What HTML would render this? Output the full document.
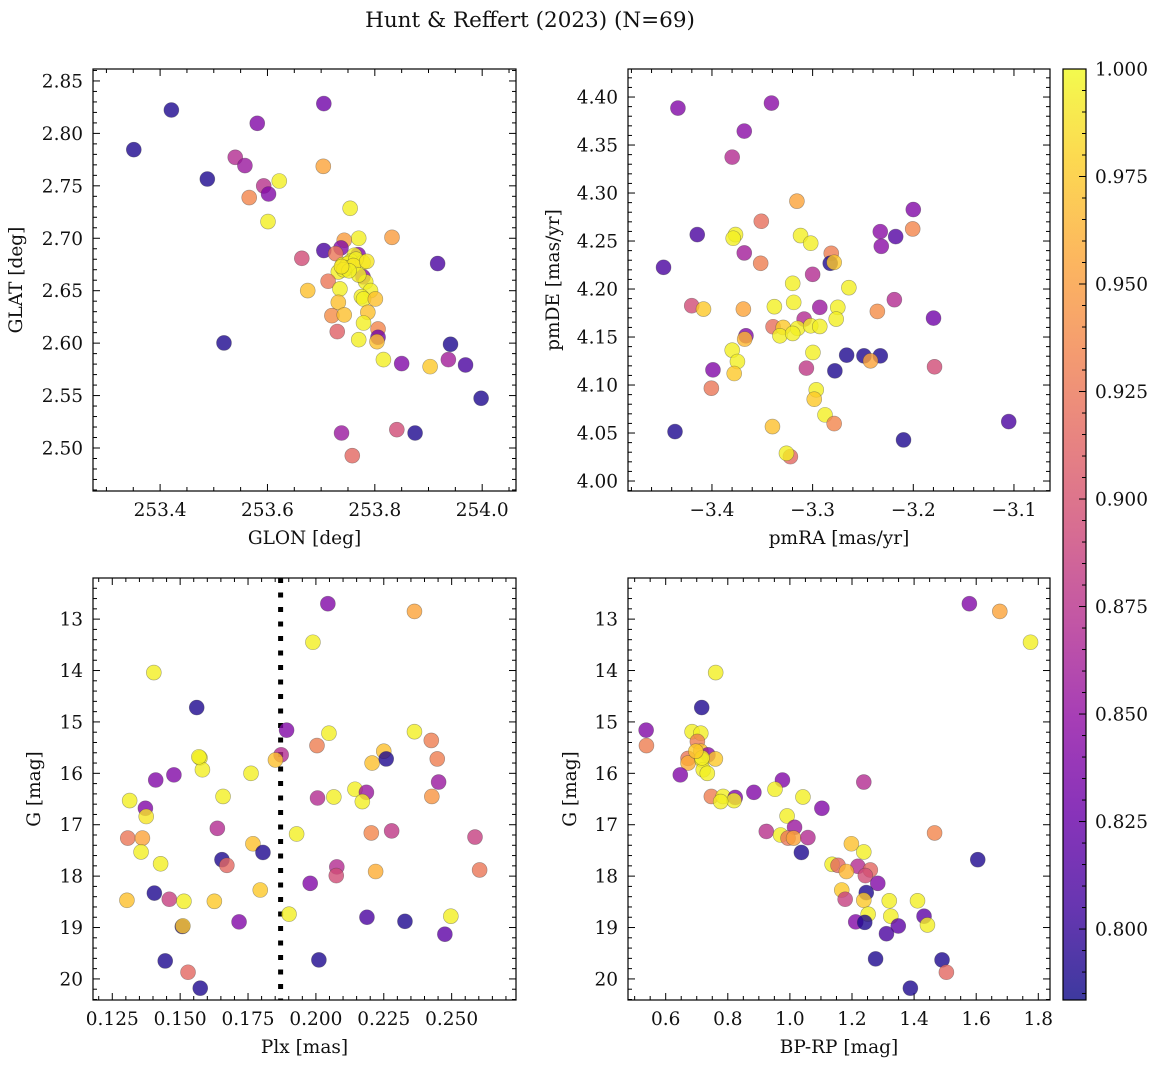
<!DOCTYPE html>
<html><head><meta charset="utf-8">
<style>
html,body{margin:0;padding:0;background:#fff;}
svg{display:block;font-family:"DejaVu Serif","Liberation Serif",serif;}
</style></head>
<body>
<svg id="fig" width="1160" height="1068" viewBox="0 0 1160 1068" xmlns="http://www.w3.org/2000/svg">
<rect width="1160" height="1068" fill="#fff"/>
<text x="530" y="27" font-size="21.5" text-anchor="middle" fill="#111">Hunt &amp; Reffert (2023) (N=69)</text>
</svg>
<script>
// ---- Panel 1: GLON vs GLAT ----
const glonTL = [253.351,253.421,253.581,253.705,253.488,253.540,253.558,253.622,253.593,253.602,253.566,253.704,253.601,253.754,253.770,253.832,253.743,253.705,253.737,253.727,253.769,253.762,253.664,253.917,253.740,253.755,253.778,253.732,253.747,253.778,253.783,253.713,253.735,253.792,253.675,253.775,253.779,253.801,253.732,253.787,253.720,253.743,253.730,253.779,253.806,253.806,253.770,253.804,253.519,253.816,253.850,253.903,253.941,253.937,253.969,253.998,253.738,253.841,253.875,253.758,253.750,253.745,253.765,253.760,253.742,253.785,253.770,253.752,253.738];
const glatTL = [2.7845,2.8223,2.8096,2.8284,2.7565,2.7772,2.7693,2.7546,2.7499,2.7422,2.7388,2.7686,2.7159,2.7286,2.7000,2.7009,2.6981,2.6883,2.6908,2.6854,2.6844,2.6838,2.6809,2.6759,2.6749,2.6781,2.6769,2.6679,2.6710,2.6632,2.6584,2.6590,2.6517,2.6501,2.6501,2.6443,2.6421,2.6421,2.6389,2.6294,2.6262,2.6269,2.6110,2.6192,2.6135,2.6056,2.6033,2.6014,2.6002,2.5843,2.5805,2.5776,2.5989,2.5843,2.5792,2.5474,2.5143,2.5175,2.5143,2.4927,2.6760,2.6720,2.6800,2.6740,2.6700,2.6780,2.6650,2.6690,2.6730];
const probTL = [0.79,0.79,0.84,0.83,0.79,0.87,0.855,0.995,0.875,0.84,0.935,0.955,0.995,0.995,0.995,0.95,0.95,0.81,0.84,0.925,0.84,0.995,0.895,0.81,0.995,0.995,0.995,0.995,0.995,0.845,0.995,0.925,0.995,0.995,0.97,0.995,0.995,0.97,0.97,0.97,0.94,0.97,0.91,0.995,0.935,0.83,0.995,0.97,0.79,0.995,0.84,0.975,0.79,0.86,0.81,0.79,0.855,0.895,0.79,0.915,0.995,0.995,0.995,0.99,0.995,0.99,0.995,0.995,0.99];

// ---- Panel 2: pmRA vs pmDE ----
const pmraTR = [-3.4338,-3.3409,-3.3679,-3.3799,-3.3156,-3.2000,-3.2006,-3.3510,-3.4146,-3.3766,-3.3789,-3.3120,-3.3019,-3.2328,-3.2175,-3.2318,-3.3679,-3.2815,-3.2825,-3.2786,-3.4481,-3.3516,-3.3000,-3.3198,-3.2640,-3.3188,-3.3380,-3.4201,-3.4084,-3.3688,-3.2929,-3.2750,-3.2188,-3.2357,-3.1799,-3.2766,-3.3084,-3.3393,-3.3292,-3.3149,-3.3019,-3.2929,-3.3325,-3.3198,-3.3662,-3.3675,-3.3799,-3.3747,-3.3779,-3.2997,-3.2662,-3.2490,-3.2328,-3.2425,-3.2779,-3.3062,-3.1789,-3.3990,-3.4006,-3.2964,-3.2984,-3.2877,-3.2786,-3.3399,-3.4367,-3.2097,-3.1052,-3.3221,-3.3260];
const pmdeTR = [4.3885,4.3937,4.3645,4.3374,4.2915,4.2828,4.2626,4.2706,4.2567,4.2567,4.2529,4.2557,4.2477,4.2598,4.2546,4.2445,4.2376,4.2372,4.2268,4.2278,4.2226,4.2268,4.2153,4.2059,4.2014,4.1861,4.1816,4.1826,4.1791,4.1791,4.1809,4.1809,4.1889,4.1767,4.1697,4.1687,4.1687,4.1607,4.1600,4.1590,4.1617,4.1610,4.1513,4.1537,4.1513,4.1478,4.1363,4.1245,4.1120,4.1339,4.1311,4.1304,4.1304,4.1252,4.1148,4.1176,4.1190,4.1158,4.0967,4.0950,4.0852,4.0689,4.0598,4.0567,4.0515,4.0428,4.0619,4.0254,4.0289];
const probTR = [0.84,0.845,0.845,0.87,0.955,0.84,0.935,0.92,0.81,0.995,0.995,0.995,0.995,0.845,0.815,0.845,0.86,0.93,0.79,0.975,0.81,0.93,0.87,0.995,0.995,0.995,0.995,0.895,0.975,0.955,0.855,0.995,0.87,0.94,0.83,0.995,0.87,0.92,0.975,0.995,0.995,0.995,0.995,0.995,0.84,0.965,0.995,0.995,0.975,0.995,0.79,0.79,0.79,0.955,0.79,0.88,0.895,0.84,0.925,0.995,0.975,0.995,0.935,0.97,0.79,0.79,0.81,0.915,0.995];

// ---- Panel 3: Plx vs G ----
const plxBL = [0.2044,0.2363,0.1989,0.1403,0.1561,0.1892,0.2048,0.2363,0.2004,0.2425,0.2447,0.1872,0.1851,0.1573,0.1582,0.2250,0.2207,0.2259,0.1761,0.1477,0.1410,0.2452,0.2144,0.2186,0.2171,0.2427,0.1658,0.2006,0.2066,0.1314,0.1372,0.1375,0.1637,0.1307,0.1361,0.1356,0.1768,0.1805,0.1929,0.2204,0.2279,0.2586,0.1654,0.1672,0.1428,0.2077,0.2075,0.2220,0.2603,0.1979,0.1405,0.1795,0.1460,0.1514,0.1304,0.1626,0.1901,0.1717,0.2188,0.2328,0.2497,0.2475,0.1508,0.1510,0.1445,0.2011,0.1529,0.1574,0.1569];
const gBL = [12.70,12.85,13.45,14.04,14.72,15.16,15.22,15.19,15.46,15.36,15.72,15.64,15.74,15.70,15.93,15.57,15.80,15.72,16.00,16.03,16.13,16.17,16.31,16.37,16.55,16.45,16.45,16.48,16.46,16.53,16.68,16.84,17.07,17.26,17.26,17.53,17.37,17.54,17.18,17.16,17.12,17.24,17.68,17.79,17.76,17.82,17.99,17.91,17.88,18.14,18.33,18.27,18.45,18.49,18.47,18.49,18.74,18.89,18.80,18.88,18.78,19.13,18.98,18.97,19.65,19.63,19.87,20.18,15.68];
const probBL = [0.84,0.955,0.995,0.995,0.79,0.84,0.995,0.995,0.93,0.93,0.93,0.87,0.97,0.995,0.995,0.97,0.97,0.79,0.995,0.84,0.84,0.855,0.995,0.855,0.995,0.945,0.995,0.87,0.995,0.995,0.84,0.99,0.87,0.925,0.955,0.995,0.97,0.79,0.995,0.935,0.88,0.885,0.79,0.915,0.995,0.87,0.895,0.96,0.925,0.84,0.79,0.975,0.885,0.995,0.97,0.975,0.995,0.84,0.81,0.79,0.995,0.82,0.79,0.975,0.79,0.79,0.915,0.79,0.995];

// ---- Panel 4: BP-RP vs G ----
const bprpBR = [1.578,1.676,1.775,0.761,0.716,0.537,0.538,0.685,0.713,0.702,0.713,0.736,0.672,0.672,0.717,0.760,0.721,0.734,0.647,0.976,1.238,0.952,0.884,0.747,0.785,0.824,0.820,0.777,1.042,1.103,0.991,1.015,0.924,0.970,0.994,1.012,1.058,1.466,1.037,1.198,1.238,1.605,1.136,1.155,1.219,1.259,1.243,1.182,1.283,1.167,1.246,1.178,1.238,1.320,1.411,1.325,1.252,1.432,1.443,1.212,1.241,1.349,1.311,1.276,1.490,1.504,1.388,0.717,0.697];
const gBR = [12.70,12.85,13.45,14.04,14.72,15.16,15.46,15.19,15.22,15.38,15.57,15.64,15.71,15.80,15.74,15.72,15.93,16.00,16.03,16.13,16.17,16.31,16.37,16.45,16.45,16.47,16.53,16.55,16.46,16.68,16.83,17.05,17.13,17.20,17.26,17.26,17.25,17.16,17.54,17.37,17.53,17.68,17.77,17.79,17.81,17.88,17.99,17.91,18.14,18.27,18.32,18.45,18.47,18.48,18.48,18.78,18.74,18.78,18.95,18.89,18.90,18.97,19.12,19.61,19.63,19.87,20.18,15.70,15.57];
const probBR = [0.84,0.955,0.995,0.995,0.79,0.84,0.93,0.995,0.995,0.93,0.97,0.845,0.925,0.96,0.995,0.975,0.995,0.995,0.84,0.84,0.87,0.995,0.84,0.93,0.995,0.84,0.995,0.995,0.995,0.84,0.995,0.855,0.875,0.995,0.925,0.955,0.87,0.935,0.79,0.97,0.995,0.79,0.995,0.915,0.87,0.915,0.895,0.965,0.84,0.975,0.79,0.885,0.975,0.995,0.995,0.995,0.995,0.82,0.995,0.84,0.79,0.82,0.81,0.79,0.79,0.915,0.79,0.995,0.975];

// tick labels
const ticksTLx = [253.4,253.6,253.8,254.0];
const ticksTLy = [2.50,2.55,2.60,2.65,2.70,2.75,2.80,2.85];
const ticksTRx = [-3.4,-3.3,-3.2,-3.1];
const ticksTRy = [4.00,4.05,4.10,4.15,4.20,4.25,4.30,4.35,4.40];
const ticksBLx = [0.125,0.150,0.175,0.200,0.225,0.250];
const ticksGy = [13,14,15,16,17,18,19,20];
const ticksBRx = [0.6,0.8,1.0,1.2,1.4,1.6,1.8];
const ticksCbar = [0.800,0.825,0.850,0.875,0.900,0.925,0.950,0.975,1.000];
const plxCut = [0.187];

const NS = "http://www.w3.org/2000/svg";
const svg = document.getElementById('fig');
const VMIN = 0.7835, VMAX = 1.0;
const FS = 18.5;
const stops = ["#0d0887","#41049d","#6a00a8","#8f0da4","#b12a90","#cc4778","#e16462","#f2844b","#fca636","#fcce25","#f0f921"];
function hex(h){return [parseInt(h.substr(1,2),16),parseInt(h.substr(3,2),16),parseInt(h.substr(5,2),16)];}
function plasma(v){
  let t=(v-VMIN)/(VMAX-VMIN); t=Math.max(0,Math.min(1,t));
  const f=t*10, i=Math.min(9,Math.floor(f)), r=f-i;
  const a=hex(stops[i]), b=hex(stops[i+1]);
  return "rgb("+a.map((c,k)=>Math.round(c+(b[k]-c)*r)).join(",")+")";
}
function el(tag, attrs, parent){
  const e=document.createElementNS(NS,tag);
  for(const k in attrs) e.setAttribute(k,attrs[k]);
  (parent||svg).appendChild(e); return e;
}
function fmt(v,d){ let s=v.toFixed(d); return s.replace('-','\u2212'); }

function panel(cfg){
  const g=el('g',{});
  
  
  const {x0,x1,y0,y1,xmin,xmax,ymin,ymax} = cfg;
  const sx=v=>x0+(v-xmin)/(xmax-xmin)*(x1-x0);
  const sy=v=>cfg.invert ? y0+(v-ymin)/(ymax-ymin)*(y1-y0) : y1-(v-ymin)/(ymax-ymin)*(y1-y0);
  const tg=el('g',{stroke:'#000','stroke-width':1},g);
  const eps=1e-9;
  for(let v=Math.ceil(xmin/cfg.xminor-eps)*cfg.xminor; v<=xmax+eps; v+=cfg.xminor){
    const X=sx(v); const major=cfg.xt.some(t=>Math.abs(t-v)<cfg.xminor/3); const L=major?7:4;
    el('line',{x1:X,x2:X,y1:y1,y2:y1-L},tg); el('line',{x1:X,x2:X,y1:y0,y2:y0+L},tg);
  }
  const yall=[]; for(let v=Math.ceil(Math.min(ymin,ymax)/cfg.yminor-eps)*cfg.yminor; v<=Math.max(ymin,ymax)+eps; v+=cfg.yminor) yall.push(v);
  yall.forEach(v=>{
    const Y=sy(v); const major=cfg.yt.some(t=>Math.abs(t-v)<cfg.yminor/3); const L=major?7:4;
    el('line',{x1:x0,x2:x0+L,y1:Y,y2:Y},tg); el('line',{x1:x1,x2:x1-L,y1:Y,y2:Y},tg);
  });
  cfg.xt.forEach(v=>{
    const t=el('text',{x:sx(v),y:y1+25,'font-size':FS,'text-anchor':'middle',fill:'#111'},g);
    
    
    t.textContent=fmt(v,cfg.xd);
  });
  cfg.yt.forEach(v=>{
    const t=el('text',{x:x0-10,y:sy(v)+6.5,'font-size':FS,'text-anchor':'end',fill:'#111'},g);
    
    
    t.textContent=fmt(v,cfg.yd);
  });
  const xl=el('text',{x:(x0+x1)/2,y:y1+53,'font-size':FS,'text-anchor':'middle',fill:'#111'},g);
  
  
  xl.textContent=cfg.xlabel;
  const yl=el('text',{x:0,y:0,'font-size':FS,'text-anchor':'middle',fill:'#111',transform:`translate(${cfg.ylx},${(y0+y1)/2}) rotate(-90)`},g);
  
  
  yl.textContent=cfg.ylabel;
  if(cfg.vline){
    cfg.vline.forEach(v=>{
      const l=el('line',{x1:sx(v),x2:sx(v),y1:y0,y2:y1,stroke:'#000','stroke-width':5,'stroke-dasharray':'5 9.5'},g);
      
      
    });
  }
  const pg=el('g',{},g);
  cfg.xs.forEach((xv,i)=>{
    const c=el('circle',{cx:sx(xv),cy:sy(cfg.ys[i]),r:7.5,fill:plasma(cfg.ps[i]),'fill-opacity':0.8,stroke:'rgba(60,60,60,0.45)','stroke-width':0.6},pg);
    
    
  });
  const fr=el('rect',{x:x0,y:y0,width:x1-x0,height:y1-y0,fill:'none',stroke:'#000','stroke-width':1.2},g);
  
  
}

panel({name:'glon-glat-panel',x0:93,x1:516,y0:69,y1:491,xmin:253.275,xmax:254.063,ymin:2.459,ymax:2.8614,
  xt:ticksTLx,yt:ticksTLy,xminor:0.05,yminor:0.01,xd:1,yd:2,xlabel:'GLON [deg]',ylabel:'GLAT [deg]',ylx:22,
  xs:glonTL,ys:glatTL,ps:probTL});
panel({name:'pm-panel',x0:628,x1:1050,y0:69,y1:491,xmin:-3.4834,xmax:-3.0642,ymin:3.9896,ymax:4.4292,
  xt:ticksTRx,yt:ticksTRy,xminor:0.02,yminor:0.01,xd:1,yd:2,xlabel:'pmRA [mas/yr]',ylabel:'pmDE [mas/yr]',ylx:559,
  xs:pmraTR,ys:pmdeTR,ps:probTR});
panel({name:'plx-g-panel',x0:93,x1:516,y0:578,y1:1000,xmin:0.1179,xmax:0.2737,ymin:12.20,ymax:20.41,invert:true,
  xt:ticksBLx,yt:ticksGy,xminor:0.005,yminor:0.2,xd:3,yd:0,xlabel:'Plx [mas]',ylabel:'G [mag]',ylx:40,
  xs:plxBL,ys:gBL,ps:probBL,vline:plxCut});
panel({name:'cmd-panel',x0:628,x1:1050,y0:578,y1:1000,xmin:0.4786,xmax:1.8377,ymin:12.20,ymax:20.41,invert:true,
  xt:ticksBRx,yt:ticksGy,xminor:0.05,yminor:0.2,xd:1,yd:0,xlabel:'BP-RP [mag]',ylabel:'G [mag]',ylx:576,
  xs:bprpBR,ys:gBR,ps:probBR});

// colorbar
(function(){
  const cx0=1063,cx1=1086,cy0=69,cy1=1000;
  const g=el('g',{});
  
  
  const defs=el('defs',{},g);
  const lg=el('linearGradient',{id:'cbg',x1:0,y1:1,x2:0,y2:0},defs);
  for(let i=0;i<=20;i++){
    const v=VMIN+(VMAX-VMIN)*i/20;
    el('stop',{offset:(i/20),'stop-color':plasma(v)},lg);
  }
  el('rect',{x:cx0,y:cy0,width:cx1-cx0,height:cy1-cy0,fill:'url(#cbg)','fill-opacity':0.8},g);
  const sy=v=>cy1-(v-VMIN)/(VMAX-VMIN)*(cy1-cy0);
  for(let v=0.785; v<=1.0001; v+=0.005){
    const major=ticksCbar.some(t=>Math.abs(t-v)<0.001);
    el('line',{x1:cx1,x2:cx1-(major?7:4),y1:sy(v),y2:sy(v),stroke:'#000','stroke-width':1},g);
  }
  ticksCbar.forEach(v=>{
    const t=el('text',{x:cx1+9,y:sy(v)+6.5,'font-size':FS,fill:'#111'},g);
    
    
    t.textContent=v.toFixed(3);
  });
  el('rect',{x:cx0,y:cy0,width:cx1-cx0,height:cy1-cy0,fill:'none',stroke:'#000','stroke-width':1.2},g);
})();
</script>
</body></html>
